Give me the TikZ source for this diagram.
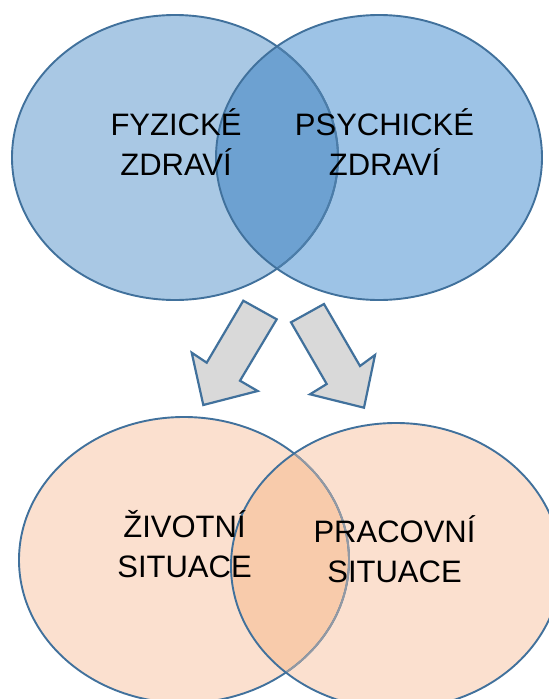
\documentclass[tikz,border=0pt]{standalone}
\usepackage{fontspec}
\setmainfont{Liberation Sans}
\usepackage{xcolor}
\usetikzlibrary{positioning}

\definecolor{rimblue}{HTML}{41719C}
\definecolor{fyzfill}{HTML}{A9C8E4}
\definecolor{psyfill}{HTML}{9DC3E6}
\definecolor{zdrlens}{HTML}{6DA1D1}
\definecolor{sitfill}{HTML}{FBE0CF}
\definecolor{sitlens}{HTML}{F8CBAB}
\definecolor{arrowgray}{HTML}{D9D9D9}

\begin{document}
\begin{tikzpicture}[x=1pt, y=-1pt,
    rim/.style={draw=rimblue, line width=1.9pt},
    venntext/.style={align=center, inner sep=0pt, anchor=base,
      font=\fontsize{31}{40}\selectfont},
    bigarrow/.style={fill=arrowgray, draw=rimblue, line width=2.2pt, line join=miter}]
  \clip (0,0) rectangle (549,699);

  % health circles
  \def\fyz{(175,157.5) ellipse [x radius=163pt, y radius=142.5pt]}
  \def\psy{(379,157.5) ellipse [x radius=163pt, y radius=142.5pt]}
  \fill[fyzfill] \fyz;
  \fill[psyfill] \psy;
  \begin{scope}
    \clip \fyz;
    \fill[zdrlens] \psy;
  \end{scope}
  \draw[rim] \fyz;
  \begin{scope}
    \clip \psy;
    \draw[rim, draw=rimblue!75!zdrlens] \fyz;
  \end{scope}
  \draw[rim] \psy;

  % situation circles
  \def\ziv{(184,560) ellipse [x radius=165pt, y radius=143pt]}
  \def\pra{(396,566) ellipse [x radius=165pt, y radius=143pt]}
  \fill[sitfill] \ziv;
  \fill[sitfill] \pra;
  \begin{scope}
    \clip \ziv;
    \fill[sitlens] \pra;
  \end{scope}
  \draw[rim] \ziv;
  \begin{scope}
    \clip \pra;
    \draw[rim, draw=rimblue!55!sitlens] \ziv;
  \end{scope}
  \draw[rim] \pra;

  % block arrows
  \draw[bigarrow] (243.3,300.7) -- (276.7,319.3) -- (240,380.7) -- (257.7,391)
    -- (203.3,405) -- (191.7,352.7) -- (206.7,362.7) -- cycle;
  \draw[bigarrow] (324,304) -- (291,322.3) -- (326.7,384) -- (310,394.3)
    -- (364,407.7) -- (375,355) -- (360,366) -- cycle;

  % labels (base = last line)
  \node[venntext] (fyzicke) at (176,175) {FYZICKÉ\\ZDRAVÍ};
  \node[venntext] (psychicke) at (384.5,175) {PSYCHICKÉ\\ZDRAVÍ};
  \node[venntext] (zivotni) at (184.5,577) {ŽIVOTNÍ\\SITUACE};
  \node[venntext] (pracovni) at (394.5,582) {PRACOVNÍ\\SITUACE};
\end{tikzpicture}
\end{document}
